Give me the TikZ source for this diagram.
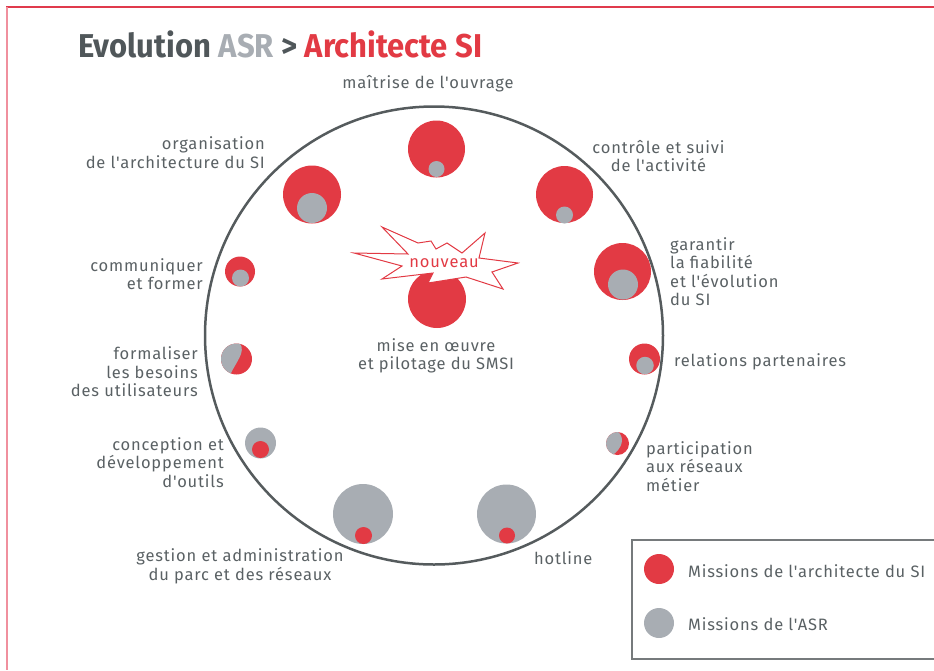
\documentclass[tikz,border=0pt]{standalone}
\usepackage{fontspec}
\setmainfont{Fira Sans}[Ligatures=TeXOff]
\definecolor{bubred}{HTML}{E23A44}
\definecolor{bubgrey}{HTML}{A8ADB3}
\definecolor{txtgrey}{HTML}{5A6164}
\definecolor{ringgrey}{HTML}{555B5D}
\definecolor{titlegrey}{HTML}{50575A}
\definecolor{framered}{HTML}{E03A4C}
\definecolor{framepink}{HTML}{F0909E}
\definecolor{boxgrey}{HTML}{767A7C}
\begin{document}
\begin{tikzpicture}[x=1pt,y=-1pt,
  lbl/.style={font=\fontsize{16.5}{18.5}\selectfont\addfontfeature{LetterSpace=5}, text=txtgrey, inner sep=0pt},
  redb/.style={circle, fill=bubred, inner sep=0pt},
  greyb/.style={circle, fill=bubgrey, inner sep=0pt}]
\useasboundingbox (0,0) rectangle (934,670);
% frame
\draw[framered, line width=1.5pt] (6,7) -- (934,7);
\draw[framepink, line width=1.5pt] (7,7) -- (7,670);
% title
\node[anchor=west, inner sep=0pt, font=\fontsize{33}{36}\selectfont\bfseries] (title) at (78,44)
  {\scalebox{0.94}[1]{\textcolor{titlegrey}{Evolution} \textcolor{bubgrey}{ASR} \textcolor{titlegrey}{>} \textcolor{bubred}{Architecte SI}}};
% ring
\node[circle, draw=ringgrey, line width=2.5pt, minimum size=458pt, inner sep=0pt] (ring) at (434,335.5) {};
% bubbles
\node[redb, minimum size=57pt] (b1r) at (436.5,149) {};
\node[greyb, minimum size=16pt] (b1g) at (436.5,169) {};
\node[redb, minimum size=58pt] (b2r) at (312,194.5) {};
\node[greyb, minimum size=30pt] (b2g) at (312,208) {};
\node[redb, minimum size=57pt] (b3r) at (564.5,194.5) {};
\node[greyb, minimum size=17pt] (b3g) at (564.5,215) {};
\node[redb, minimum size=30pt] (b4r) at (240,271.5) {};
\node[greyb, minimum size=17pt] (b4g) at (240.5,278) {};
\node[redb, minimum size=57pt] (b5r) at (622.5,271.5) {};
\node[greyb, minimum size=30pt] (b5g) at (623,284.5) {};
\node[redb, minimum size=31pt] (b8r) at (644.5,359) {};
\node[greyb, minimum size=17.5pt] (b8g) at (645,365.5) {};
\node[greyb, minimum size=31pt] (b10g) at (260.5,443) {};
\node[redb, minimum size=17pt] (b10r) at (260.5,449.5) {};
\node[greyb, minimum size=60pt] (b11g) at (363,514) {};
\node[redb, minimum size=17pt] (b11r) at (363.5,535.5) {};
\node[greyb, minimum size=59pt] (b12g) at (506.5,514) {};
\node[redb, minimum size=16pt] (b12r) at (507,535.5) {};
% split bubble: formaliser
\node[redb, minimum size=31pt] (b7) at (236.5,359) {};
\begin{scope}
  \clip (236.5,359) circle (15.5pt);
  \fill[bubgrey] (240,343.5) .. controls (246,352) and (236,362) .. (230,375) -- (218,375) -- (218,343.5) -- cycle;
\end{scope}
% split bubble: participation
\node[redb, minimum size=23pt] (b9) at (617.5,443.5) {};
\begin{scope}
  \clip (617.5,443.5) circle (11.5pt);
  \fill[bubgrey] (617.5,431.5) .. controls (625,437) and (623,448) .. (612,455.5) -- (604,455.5) -- (604,431.5) -- cycle;
\end{scope}
% new mission
\node[redb, minimum size=58pt] (b6r) at (437,299) {};
\draw[bubred, fill=white, line width=1pt, line join=miter]
  (354,253) -- (408,254) -- (382,227) -- (418,243) -- (431,241) -- (436,249) -- (447,243)
  -- (462,253) -- (485,233) -- (479,258) -- (518,263) -- (492,272) -- (503,289)
  -- (466,277) -- (428,283) -- (433,273) -- (382,279) -- (402,266) -- cycle;
\node[lbl, text=bubred] (nouv) at (444,263) {nouveau};
% labels
\node[lbl] (l1) at (428,84) {maîtrise de l'ouvrage};
\node[lbl, anchor=east, align=right] (l2) at (265,152.5) {organisation\\de l'architecture du SI};
\node[lbl, align=center] (l3) at (658.5,156) {contrôle et suivi\\de l'activité};
\node[lbl, anchor=east, align=right] (l4) at (203,274) {communiquer\\et former};
\node[lbl, anchor=west, align=left] (l5) at (670,271.5) {garantir\\la fiabilité\\et l'évolution\\du SI};
\node[lbl, align=center] (l6) at (436,356) {mise en œuvre\\et pilotage du SMSI};
\node[lbl, anchor=east, align=right] (l7) at (198,372) {formaliser\\les besoins\\des utilisateurs};
\node[lbl, anchor=west] (l8) at (674,362) {relations partenaires};
\node[lbl, anchor=west, align=left] (l9) at (646,466.5) {participation\\aux réseaux\\métier};
\node[lbl, anchor=east, align=right] (l10) at (224,462.5) {conception et\\développement\\d'outils};
\node[lbl, align=center] (l11) at (240,566.5) {gestion et administration\\du parc et des réseaux};
\node[lbl, anchor=west] (l12) at (534,558) {hotline};
% legend
\draw[boxgrey, line width=1.3pt] (632,540) rectangle (945,659);
\node[redb, minimum size=30pt] (kr) at (659,569) {};
\node[greyb, minimum size=30pt] (kg) at (659,623) {};
\node[lbl, anchor=west] (kt1) at (688,571) {Missions de l'architecte du SI};
\node[lbl, anchor=west] (kt2) at (688,624) {Missions de l'ASR};
\end{tikzpicture}
\end{document}
